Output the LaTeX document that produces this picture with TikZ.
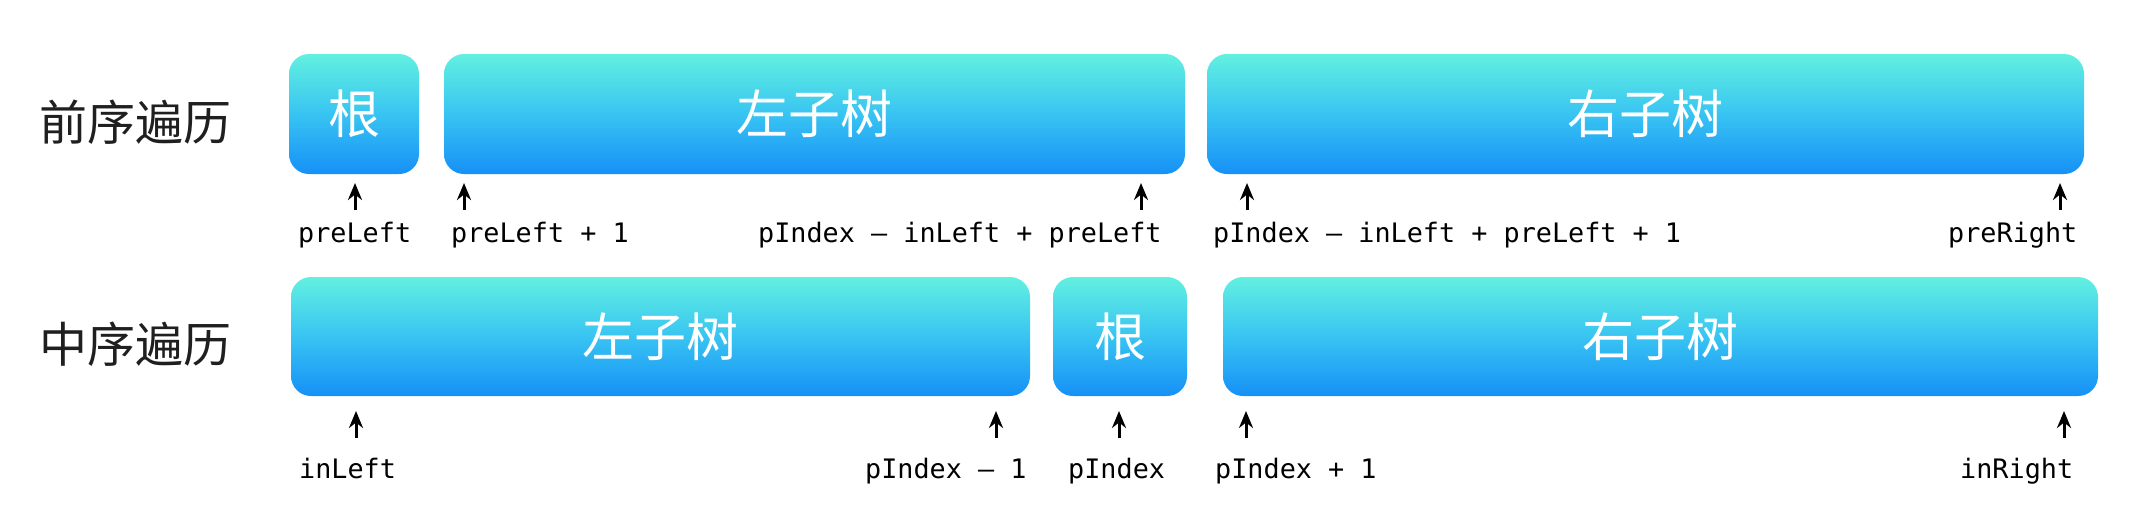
\documentclass[tikz,border=0pt]{standalone}
\usepackage{fontspec}
\setmonofont{DejaVu Sans Mono}
\newfontfamily\cjk{Noto Sans CJK SC}
\usetikzlibrary{arrows.meta}
\definecolor{treetop}{HTML}{62F0E0}
\definecolor{treemid}{HTML}{38C4F2}
\definecolor{treebottom}{HTML}{1690F7}

\begin{document}
\begin{tikzpicture}[x=1pt,y=-1pt,>={Stealth[length=17pt,width=14pt]},
    part node/.style={rounded corners=20pt,top color=treetop,bottom color=treebottom,
      middle color=treemid,minimum height=120pt,inner sep=0pt,text=white,
      font=\cjk\fontsize{52}{52}\selectfont},
    order label/.style={inner sep=0pt,text=black!88,font=\cjk\fontsize{48}{48}\selectfont},
    index label/.style={anchor=base west,inner sep=0pt,font=\ttfamily\fontsize{26.8}{27}\selectfont},
    pointer/.style={->,line width=3pt}]
    \path[use as bounding box] (0,0) rectangle (2140,509);
    % row names
    \node[order label] (pre) at (135,122) {前序遍历};
    \node[order label] (in) at (135,344) {中序遍历};
    % preorder
    \node[part node,minimum width=130pt] (preroot) at (354,114) {根};
    \node[part node,minimum width=741pt] (preleft) at (814.5,114) {左子树};
    \node[part node,minimum width=877pt] (preright) at (1645.5,114) {右子树};
    % inorder
    \node[part node,minimum width=739pt,minimum height=119pt] (inleft) at (660.5,336.5) {左子树};
    \node[part node,minimum width=134pt,minimum height=119pt] (inroot) at (1120,336.5) {根};
    \node[part node,minimum width=875pt,minimum height=119pt] (inright) at (1660.5,336.5) {右子树};
    % pointer tips
    \coordinate (p1) at (355,183);
    \coordinate (p2) at (464,183);
    \coordinate (p3) at (1141,183);
    \coordinate (p4) at (1247,183);
    \coordinate (p5) at (2060,183);
    \coordinate (i1) at (356,411);
    \coordinate (i2) at (996,411);
    \coordinate (i3) at (1119,411);
    \coordinate (i4) at (1246,411);
    \coordinate (i5) at (2064,411);
    \draw[pointer] ([yshift=-27pt]p1) -- (p1);
    \draw[pointer] ([yshift=-27pt]p2) -- (p2);
    \draw[pointer] ([yshift=-27pt]p3) -- (p3);
    \draw[pointer] ([yshift=-27pt]p4) -- (p4);
    \draw[pointer] ([yshift=-27pt]p5) -- (p5);
    \draw[pointer] ([yshift=-27pt]i1) -- (i1);
    \draw[pointer] ([yshift=-27pt]i2) -- (i2);
    \draw[pointer] ([yshift=-27pt]i3) -- (i3);
    \draw[pointer] ([yshift=-27pt]i4) -- (i4);
    \draw[pointer] ([yshift=-27pt]i5) -- (i5);
    % index labels
    \node[index label] (lp1) at (298,242) {preLeft};
    \node[index label] (lp2) at (451,242) {preLeft + 1};
    \node[index label] (lp3) at (758,242) {pIndex – inLeft + preLeft};
    \node[index label] (lp4) at (1213,242) {pIndex – inLeft + preLeft + 1};
    \node[index label] (lp5) at (1948,242) {preRight};
    \node[index label] (li1) at (299,478) {inLeft};
    \node[index label] (li2) at (865,478) {pIndex – 1};
    \node[index label] (li3) at (1068,478) {pIndex};
    \node[index label] (li4) at (1215,478) {pIndex + 1};
    \node[index label] (li5) at (1960,478) {inRight};
\end{tikzpicture}
\end{document}
